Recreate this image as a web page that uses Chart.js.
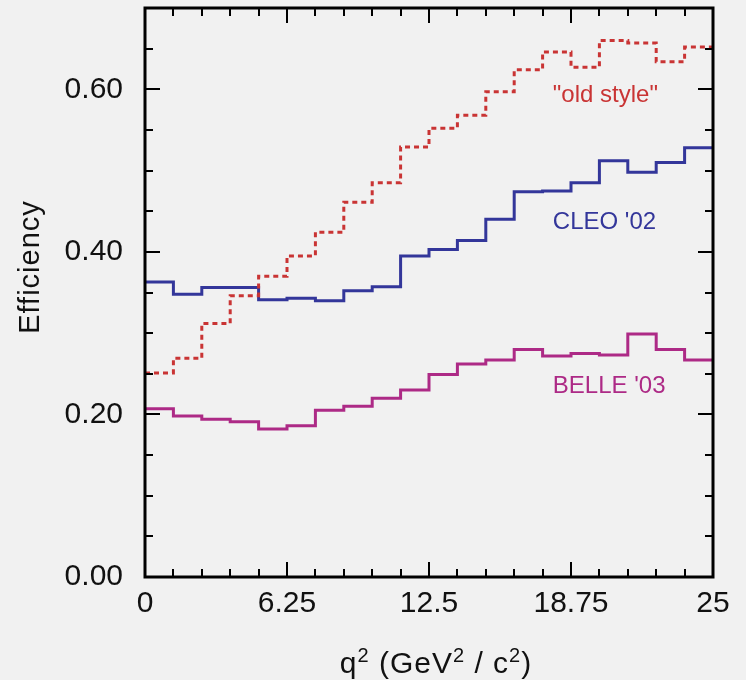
<!DOCTYPE html>
<html>
<head>
<meta charset="utf-8">
<title>Efficiency vs q2</title>
<script src="https://cdn.jsdelivr.net/npm/chart.js@4.4.0/dist/chart.umd.min.js"></script>
<style>
  html, body { margin: 0; padding: 0; background: #f1f1f1; }
  #wrap { width: 746px; height: 680px; }
</style>
</head>
<body>
<div id="wrap"><canvas id="effChart" width="746" height="680"></canvas></div>
<script>
// lower edge of each q^2 bin (GeV^2/c^2), last bin closes at 25
const binEdges = [0, 1.25, 2.5, 3.75, 5, 6.25, 7.5, 8.75, 10, 11.25,
                  12.5, 13.75, 15, 16.25, 17.5, 18.75, 20, 21.25, 22.5, 23.75];
const binEnd = 25;

// efficiency per bin
const oldStyle = [0.251, 0.269, 0.312, 0.346, 0.370, 0.395, 0.424, 0.461, 0.485, 0.529,
                  0.552, 0.568, 0.597, 0.624, 0.646, 0.627, 0.660, 0.657, 0.634, 0.652];
const cleo02   = [0.363, 0.348, 0.356, 0.356, 0.341, 0.343, 0.340, 0.352, 0.357, 0.395,
                  0.403, 0.414, 0.440, 0.474, 0.475, 0.485, 0.512, 0.498, 0.510, 0.528];
const belle03  = [0.207, 0.198, 0.194, 0.191, 0.182, 0.186, 0.205, 0.210, 0.220, 0.230,
                  0.249, 0.262, 0.267, 0.280, 0.272, 0.275, 0.273, 0.299, 0.280, 0.267];

const seriesNames = ['"old style"', "CLEO '02", "BELLE '03"];
const xTickLabels = ['0', '6.25', '12.5', '18.75', '25'];
const yTickLabels = ['0.00', '0.20', '0.40', '0.60'];

const FONT = "'Liberation Sans', Arial, Helvetica, sans-serif";

// histogram outline: one point per lower edge, plus the closing edge
function histPoints(values) {
    const pts = binEdges.map((e, i) => ({ x: e, y: values[i] }));
    pts.push({ x: binEnd, y: values[values.length - 1] });
    return pts;
}

function findLabel(list, value) {
    const hit = list.find(l => Math.abs(parseFloat(l) - value) < 1e-6);
    return hit === undefined ? '' : hit;
}

// frame box with inward ticks on all four sides
const frameTicks = {
    id: 'frameTicks',
    afterDatasetsDraw(chart) {
        const { ctx, chartArea: a, scales } = chart;
        ctx.save();
        ctx.strokeStyle = '#000';
        ctx.lineWidth = 2;
        scales.x.ticks.forEach(t => {
            if (t.value <= scales.x.min || t.value >= scales.x.max) return;
            const px = Math.round(scales.x.getPixelForValue(t.value));
            const len = findLabel(xTickLabels, t.value) ? 15 : 8;
            ctx.beginPath();
            ctx.moveTo(px, a.bottom); ctx.lineTo(px, a.bottom - len);
            ctx.moveTo(px, a.top); ctx.lineTo(px, a.top + len);
            ctx.stroke();
        });
        scales.y.ticks.forEach(t => {
            if (t.value <= scales.y.min + 1e-9 || t.value >= scales.y.max - 1e-9) return;
            const py = Math.round(scales.y.getPixelForValue(t.value));
            const len = findLabel(yTickLabels, t.value) ? 15 : 8;
            ctx.beginPath();
            ctx.moveTo(a.left, py); ctx.lineTo(a.left + len, py);
            ctx.moveTo(a.right, py); ctx.lineTo(a.right - len, py);
            ctx.stroke();
        });
        ctx.lineWidth = 3;
        ctx.strokeRect(a.left, a.top, a.right - a.left, a.bottom - a.top);
        ctx.restore();
    }
};

// series names inside the plot, axis titles with superscripts
const textLabels = {
    id: 'textLabels',
    afterDraw(chart, args, opts) {
        const { ctx, scales } = chart;
        ctx.save();
        ctx.font = '24px ' + FONT;
        ctx.textAlign = 'left';
        ctx.textBaseline = 'middle';
        opts.spots.forEach((s, i) => {
            ctx.fillStyle = chart.data.datasets[i].borderColor;
            ctx.fillText(seriesNames[i], scales.x.getPixelForValue(s.x), scales.y.getPixelForValue(s.y));
        });

        // y title
        ctx.fillStyle = '#111';
        ctx.letterSpacing = '1px';
        ctx.font = '29px ' + FONT;
        ctx.textAlign = 'center';
        ctx.save();
        ctx.translate(31, 267);
        ctx.rotate(-Math.PI / 2);
        ctx.fillText('Efficiency', 0, 0);
        ctx.restore();

        // x title: q^2 (GeV^2 / c^2)
        const parts = [['q', 0], ['2', 1], [' (GeV', 0], ['2', 1], [' / c', 0], ['2', 1], [')', 0]];
        const big = '30px ' + FONT, small = '20px ' + FONT;
        let total = 0;
        parts.forEach(p => { ctx.font = p[1] ? small : big; total += ctx.measureText(p[0]).width; });
        let x = 436 - total / 2;
        const base = 673;
        ctx.textAlign = 'left';
        ctx.textBaseline = 'alphabetic';
        parts.forEach(p => {
            ctx.font = p[1] ? small : big;
            ctx.fillText(p[0], x, p[1] ? base - 11 : base);
            x += ctx.measureText(p[0]).width;
        });
        ctx.restore();
    }
};

const ctx = document.getElementById('effChart').getContext('2d');
new Chart(ctx, {
    type: 'line',
    data: {
        datasets: [
            {
                label: seriesNames[0],
                data: histPoints(oldStyle),
                borderColor: '#c93434',
                borderWidth: 3,
                borderDash: [5, 4],
                stepped: 'before',
                pointRadius: 0,
                fill: false
            },
            {
                label: seriesNames[1],
                data: histPoints(cleo02),
                borderColor: '#33369a',
                borderWidth: 3,
                stepped: 'before',
                pointRadius: 0,
                fill: false
            },
            {
                label: seriesNames[2],
                data: histPoints(belle03),
                borderColor: '#ad2a86',
                borderWidth: 3,
                stepped: 'before',
                pointRadius: 0,
                fill: false
            }
        ]
    },
    options: {
        responsive: false,
        animation: false,
        layout: { padding: { left: 0, right: 33, top: 8, bottom: 0 } },
        plugins: {
            legend: { display: false },
            tooltip: { enabled: false },
            textLabels: {
                spots: [{ x: 17.95, y: 0.593 }, { x: 17.95, y: 0.436 }, { x: 17.95, y: 0.235 }]
            }
        },
        scales: {
            x: {
                type: 'linear',
                min: 0,
                max: 25,
                grid: { display: false },
                border: { display: false },
                ticks: {
                    stepSize: 1.25,
                    autoSkip: false,
                    maxRotation: 0,
                    padding: 1,
                    color: '#111',
                    font: { family: FONT, size: 30 },
                    callback: v => findLabel(xTickLabels, v)
                },
                afterFit: s => { s.height = 103; s.paddingLeft = 0; s.paddingRight = 0; }
            },
            y: {
                min: 0,
                max: 0.7,
                grid: { display: false },
                border: { display: false },
                ticks: {
                    stepSize: 0.05,
                    autoSkip: false,
                    padding: 14,
                    color: '#111',
                    font: { family: FONT, size: 30 },
                    callback: v => findLabel(yTickLabels, v)
                },
                afterFit: s => { s.width = 145; s.paddingTop = 0; s.paddingBottom = 0; }
            }
        }
    },
    plugins: [frameTicks, textLabels]
});
</script>
</body>
</html>
